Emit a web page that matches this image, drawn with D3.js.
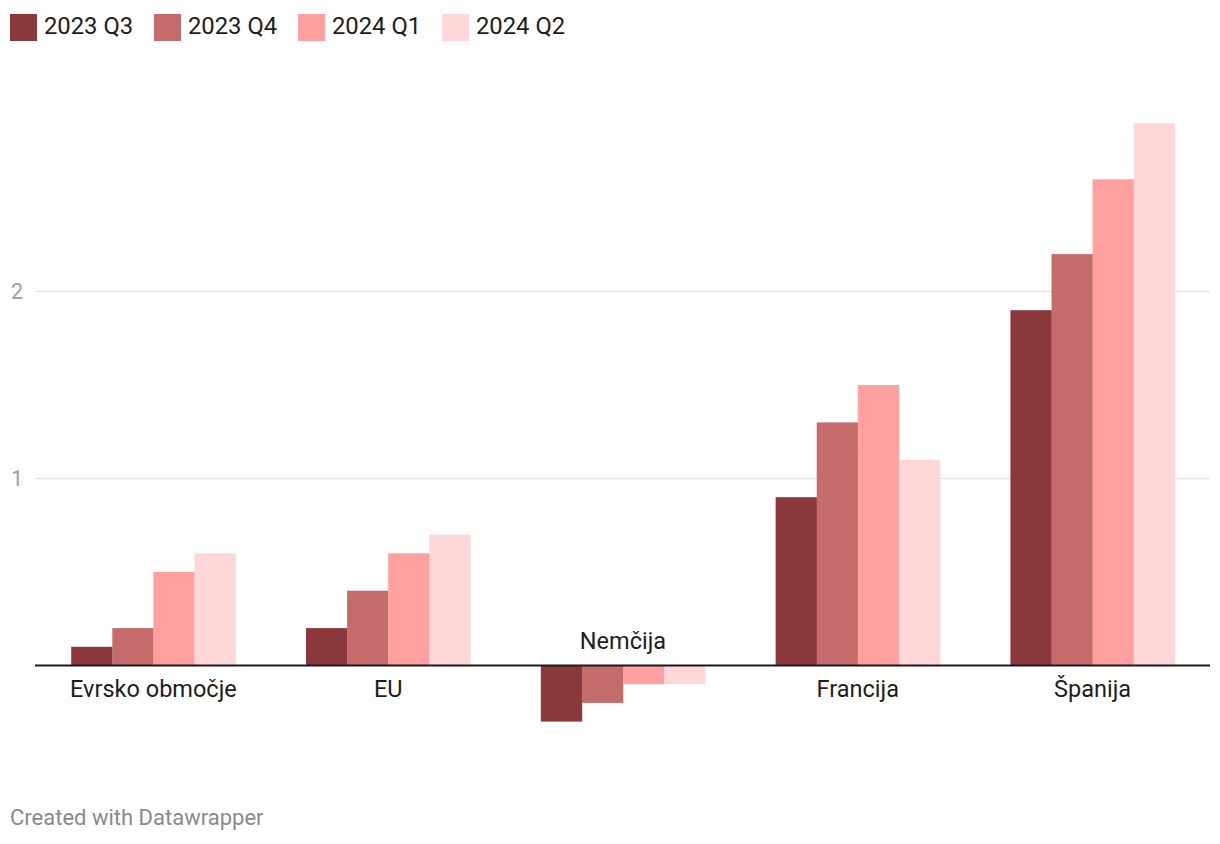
<!DOCTYPE html>
<html>
<head>
<meta charset="utf-8">
<script src="https://cdn.jsdelivr.net/npm/d3@7"></script>
<style>
  html, body { margin: 0; padding: 0; background: #fff; }
  svg { display: block; font-family: Roboto, "Noto Sans", sans-serif; }
</style>
</head>
<body>
<svg id="chart" width="1220" height="844"></svg>
<script>
const categories = ["Evrsko območje", "EU", "Nemčija", "Francija", "Španija"];
const seriesNames = ["2023 Q3", "2023 Q4", "2024 Q1", "2024 Q2"];
const q3_2023 = [0.1, 0.2, -0.3, 0.9, 1.9];
const q4_2023 = [0.2, 0.4, -0.2, 1.3, 2.2];
const q1_2024 = [0.5, 0.6, -0.1, 1.5, 2.6];
const q2_2024 = [0.6, 0.7, -0.1, 1.1, 2.9];
const seriesValues = [q3_2023, q4_2023, q1_2024, q2_2024];
const colors = ["#8b383d", "#c46b6c", "#ffa0a0", "#ffd7d8"];
const yTicks = [1, 2];

const svg = d3.select("#chart");

const x0 = d3.scaleBand().domain(categories).range([36, 1210]).paddingInner(0.3).paddingOuter(0.15);
const x1 = d3.scaleBand().domain(seriesNames).range([0, x0.bandwidth()]).padding(0);
const y = d3.scaleLinear().domain([0, 1]).range([665.5, 478.5]);

// gridlines
const grid = svg.append("g");
grid.selectAll("line").data(yTicks).join("line")
  .attr("x1", 36).attr("x2", 1210)
  .attr("y1", d => y(d)).attr("y2", d => y(d))
  .attr("stroke", "#e3e3e3").attr("stroke-width", 1.5);
grid.selectAll("text").data(yTicks).join("text")
  .attr("x", 11).attr("y", d => y(d) + 7.5)
  .attr("font-size", 21.5).attr("fill", "#a0a0a0")
  .text(d => d3.format("d")(d));

// bars
const data = [];
categories.forEach((c, i) => {
  seriesNames.forEach((s, j) => data.push({ cat: c, ser: s, val: seriesValues[j][i], j }));
});
svg.append("g").selectAll("rect").data(data).join("rect")
  .attr("x", d => x0(d.cat) + x1(d.ser))
  .attr("width", x1.bandwidth() + 0.3)
  .attr("y", d => Math.min(y(d.val), y(0)))
  .attr("height", d => Math.abs(y(d.val) - y(0)))
  .attr("fill", d => colors[d.j]);

// baseline
svg.append("line")
  .attr("x1", 35).attr("x2", 1210)
  .attr("y1", y(0)).attr("y2", y(0))
  .attr("stroke", "#1a1a1a").attr("stroke-width", 2);

// category labels
svg.append("g").selectAll("text").data(categories).join("text")
  .attr("x", c => x0(c) + x0.bandwidth() / 2)
  .attr("y", (c, i) => {
    const allNeg = seriesValues.every(s => s[i] < 0);
    return allNeg ? y(0) - 17 : y(0) + 31.5;
  })
  .attr("text-anchor", "middle")
  .attr("font-size", 23.5).attr("fill", "#1d1d1d")
  .text(c => c);

// legend
const legendX = [10, 154, 298, 442];
const lg = svg.append("g").selectAll("g").data(seriesNames).join("g")
  .attr("transform", (d, i) => `translate(${legendX[i]},14)`);
lg.append("rect").attr("width", 27).attr("height", 27).attr("fill", (d, i) => colors[i]);
lg.append("text").attr("x", 34).attr("y", 19.5)
  .attr("font-size", 23.8).attr("fill", "#1d1d1d").text(d => d);

// footer
svg.append("text").attr("x", 10).attr("y", 825)
  .attr("font-size", 22).attr("fill", "#8a8a8a")
  .text("Created with Datawrapper");
</script>
</body>
</html>
